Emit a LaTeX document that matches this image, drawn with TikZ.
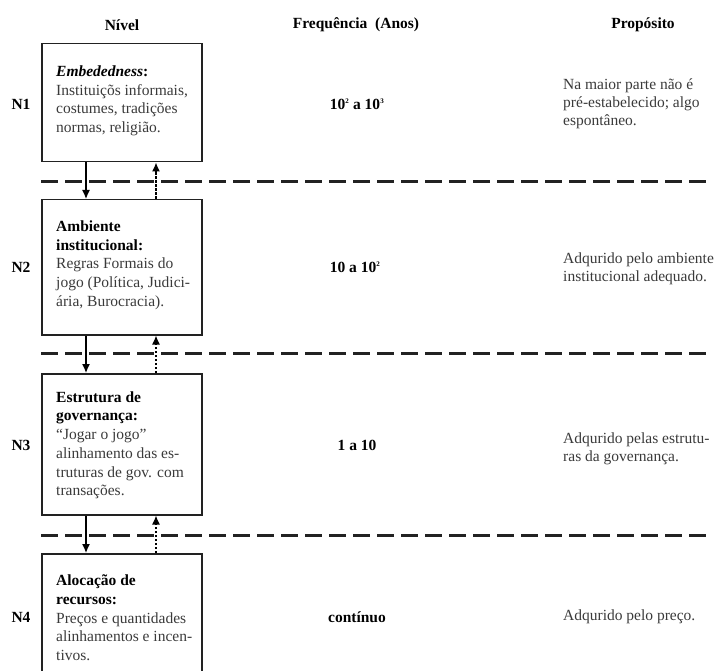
\documentclass[tikz,border=0pt]{standalone}
\usepackage{fontspec}
\setmainfont{Liberation Serif}
\usetikzlibrary{arrows.meta,calc}
\definecolor{txt}{HTML}{3A3A3A}
\definecolor{ink}{HTML}{222222}

\begin{document}
\begin{tikzpicture}[x=1pt,y=-1pt,
  levelbox/.style={draw=ink, line width=1.5pt, minimum width=160pt, inner sep=0pt, anchor=north west},
  boxtext/.style={anchor=west, align=left, inner sep=0pt, text=txt, font=\fontsize{15.5}{18.7}\selectfont},
  head/.style={font=\bfseries\fontsize{15.5}{18}\selectfont, text=black, inner sep=0pt},
  tag/.style={font=\bfseries\fontsize{15.5}{18}\selectfont, text=black, inner sep=0pt},
  freq/.style={font=\bfseries\fontsize{15.5}{18}\selectfont, text=black, inner sep=0pt},
  goal/.style={anchor=west, align=left, inner sep=0pt, text=txt, font=\fontsize{15.5}{18}\selectfont},
  sep/.style={draw=ink, line width=3pt, dash pattern=on 16.5pt off 7.5pt},
  down/.style={draw=black, line width=1.3pt, -{Latex[length=9pt,width=8pt]}},
  up/.style={draw=black, line width=1.3pt, dash pattern=on 2.5pt off 1.5pt, -{Latex[length=9pt,width=8pt]}}
]
\clip (0,0) rectangle (717,671);

% column headers
\node[head] (hlevel) at (122,25) {Nível};
\node[head] (hfreq) at (356,25) {Frequência\ \ (Anos)};
\node[head] (hgoal) at (643,25) {Propósito};

% level boxes
\node[levelbox, minimum height=118pt] (b1) at (41,43) {};
\node[levelbox, minimum height=135pt] (b2) at (41,199) {};
\node[levelbox, minimum height=141pt] (b3) at (41,373) {};
\node[levelbox, minimum height=128pt] (b4) at (41,553) {};

% box contents
\node[boxtext] (t1) at ($(b1.west)+(15,-2)$) {\textcolor{black}{\textbf{\textit{Embededness}:}}\\Instituiçõs informais,\\costumes, tradições\\normas, religião.};
\node[boxtext] (t2) at ($(b2.west)+(15,-2)$) {\textcolor{black}{\textbf{Ambiente}}\\\textcolor{black}{\textbf{institucional:}}\\Regras Formais do\\jogo (Política, Judici-\\ária, Burocracia).};
\node[boxtext] (t3) at ($(b3.west)+(15,1)$) {\textcolor{black}{\textbf{Estrutura de}}\\\textcolor{black}{\textbf{governança:}}\\“Jogar o jogo”\\alinhamento das es-\\truturas de gov. com\\transações.};
\node[boxtext] (t4) at ($(b4.west)+(15,0)$) {\textcolor{black}{\textbf{Alocação de}}\\\textcolor{black}{\textbf{recursos:}}\\Preços e quantidades\\alinhamentos e incen-\\tivos.};

% level tags
\node[tag] (n1) at (21,104) {N1};
\node[tag] (n2) at (21,267) {N2};
\node[tag] (n3) at (21,445) {N3};
\node[tag] (n4) at (21,617) {N4};

% frequencies
\node[freq] (f1) at (357,104) {10\textsuperscript{\scriptsize 2} a 10\textsuperscript{\scriptsize 3}};
\node[freq] (f2) at (355,267) {10 a 10\textsuperscript{\scriptsize 2}};
\node[freq] (f3) at (357,445) {1 a 10};
\node[freq] (f4) at (357,617) {contínuo};

% purposes
\node[goal] (p1) at (563,104) {Na maior parte não é\\pré-estabelecido; algo\\espontâneo.};
\node[goal] (p2) at (563,269) {Adqurido pelo ambiente\\institucional adequado.};
\node[goal] (p3) at (563,449) {Adqurido pelas estrutu-\\ras da governança.};
\node[goal] (p4) at (563,617) {Adqurido pelo preço.};

% level separators
\draw[sep] (41,182) -- (707,182);
\draw[sep] (41,353) -- (707,353);
\draw[sep] (41,535) -- (707,535);

% influence arrows between levels
\coordinate (dx) at (86,0);
\coordinate (ux) at (156,0);
\draw[down] (b1.south -| dx) -- (b2.north -| dx);
\draw[down] (b2.south -| dx) -- (b3.north -| dx);
\draw[down] (b3.south -| dx) -- (b4.north -| dx);
\draw[up] (b2.north -| ux) -- (b1.south -| ux);
\draw[up] (b3.north -| ux) -- (b2.south -| ux);
\draw[up] (b4.north -| ux) -- (b3.south -| ux);
\end{tikzpicture}
\end{document}
